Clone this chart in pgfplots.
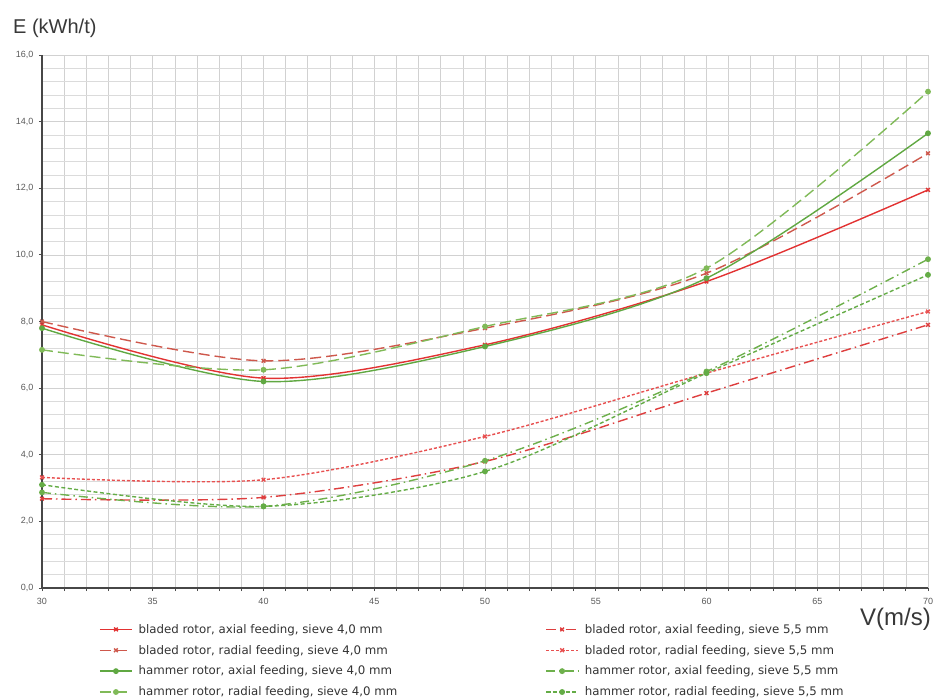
\documentclass[border=0pt]{standalone}
\usepackage{pgfplots}
\pgfplotsset{compat=1.18}
\usepackage{fontspec}
\setmainfont{Liberation Sans}
\newfontfamily\legfont{DejaVu Sans}
\definecolor{rA}{RGB}{226,50,50}
\definecolor{rB}{RGB}{206,88,76}
\definecolor{rC}{RGB}{222,62,62}
\definecolor{rD}{RGB}{232,80,80}
\definecolor{gA}{RGB}{96,168,66}
\definecolor{gB}{RGB}{128,186,88}
\definecolor{gC}{RGB}{110,176,76}
\definecolor{gD}{RGB}{100,172,70}
\begin{document}
\begin{tikzpicture}[x=1pt,y=1pt]
\useasboundingbox (-42,-109) rectangle (895,588);
\begin{axis}[
  at={(0,0)}, anchor=south west,
  width=886pt, height=533pt, scale only axis,
  xmin=30, xmax=70, ymin=0, ymax=16,
  clip=false,
  axis lines=left,
  axis line style={-, line width=1.3pt, color=black!72},
  xtick={30,31,...,70},
  xticklabels={30,,,,,35,,,,,40,,,,,45,,,,,50,,,,,55,,,,,60,,,,,65,,,,,70},
  ytick={0,2,...,16},
  minor y tick num=4,
  grid=both,
  major grid style={color=black!18, line width=0.7pt},
  minor grid style={color=black!14, line width=0.7pt},
  tick align=outside,
  major tick length=3pt, minor tick length=0pt,
  tick style={color=black!70, line width=0.8pt},
  /pgf/number format/assume math mode=true,
  ticklabel style={font=\fontsize{9}{10}\selectfont, text=black!65},
  yticklabel style={xshift=-2pt, /pgf/number format/.cd, fixed, fixed zerofill, precision=1, use comma},
  xticklabel style={yshift=-4pt},
  legend columns=2,
  legend cell align=left,
  legend style={at={(rel axis cs:0.061,-0.06)}, anchor=north west, draw=none, fill=none,
    font=\legfont\fontsize{11.8}{13}\selectfont, text=black!80, row sep=6.4pt,
    /tikz/every odd column/.append style={column sep=4pt},
    /tikz/every even column/.append style={column sep=146pt}},
  legend image code/.code={\draw[mark repeat=2,mark phase=2] plot coordinates {(0pt,0pt)(16pt,0pt)(32pt,0pt)};},
  every axis plot/.append style={smooth, line width=1.4pt},
]
\addplot[rA, line width=1.4pt, mark=x, mark size=2.6pt, mark options={solid}] coordinates {(30,7.9)(40,6.3)(50,7.3)(60,9.2)(70,11.95)};
\addlegendentry{bladed rotor, axial feeding, sieve 4,0 mm}
\addplot[rC, line width=1.4pt, dash pattern=on 10pt off 4pt on 1.5pt off 4pt, mark=x, mark size=2.6pt, mark options={solid}] coordinates {(30,2.68)(40,2.72)(50,3.8)(60,5.85)(70,7.9)};
\addlegendentry{bladed rotor, axial feeding, sieve 5,5 mm}
\addplot[rB, line width=1.4pt, dash pattern=on 11pt off 5pt, mark=x, mark size=2.6pt, mark options={solid}] coordinates {(30,8.0)(40,6.82)(50,7.8)(60,9.45)(70,13.05)};
\addlegendentry{bladed rotor, radial feeding, sieve 4,0 mm}
\addplot[rD, line width=1.4pt, dash pattern=on 3pt off 2pt, mark=x, mark size=2.6pt, mark options={solid}] coordinates {(30,3.32)(40,3.25)(50,4.55)(60,6.45)(70,8.3)};
\addlegendentry{bladed rotor, radial feeding, sieve 5,5 mm}
\addplot[gA, line width=1.4pt, mark=*, mark size=2.2pt, mark options={solid}] coordinates {(30,7.8)(40,6.2)(50,7.25)(60,9.3)(70,13.65)};
\addlegendentry{hammer rotor, axial feeding, sieve 4,0 mm}
\addplot[gC, line width=1.4pt, dash pattern=on 9pt off 4pt on 1.5pt off 4pt, mark=*, mark size=2.2pt, mark options={solid}] coordinates {(30,2.87)(40,2.45)(50,3.82)(60,6.5)(70,9.87)};
\addlegendentry{hammer rotor, axial feeding, sieve 5,5 mm}
\addplot[gB, line width=1.4pt, dash pattern=on 11pt off 5pt, mark=*, mark size=2.2pt, mark options={solid}] coordinates {(30,7.15)(40,6.55)(50,7.85)(60,9.6)(70,14.9)};
\addlegendentry{hammer rotor, radial feeding, sieve 4,0 mm}
\addplot[gD, line width=1.4pt, dash pattern=on 4pt off 2.5pt, mark=*, mark size=2.2pt, mark options={solid}] coordinates {(30,3.1)(40,2.45)(50,3.5)(60,6.45)(70,9.4)};
\addlegendentry{hammer rotor, radial feeding, sieve 5,5 mm}
\end{axis}
\node[anchor=base west, font=\fontsize{20}{22}\selectfont, text=black!78, inner sep=0pt] at (-29,554) {E (kWh/t)};
\node[anchor=base east, font=\fontsize{24}{26}\selectfont, text=black!78, inner sep=0pt] at (889,-37) {V(m/s)};
\end{tikzpicture}
\end{document}
